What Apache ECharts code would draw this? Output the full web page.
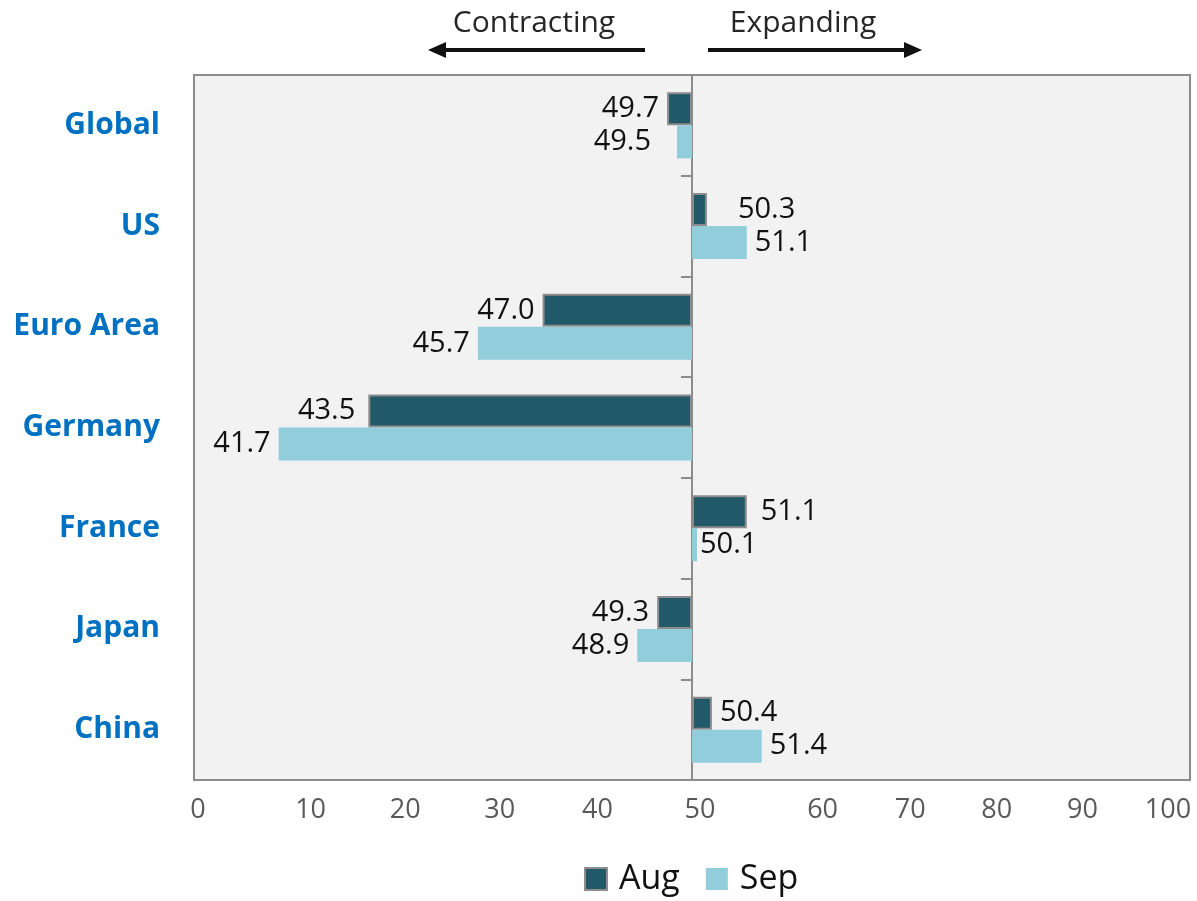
<!DOCTYPE html>
<html>
<head>
<meta charset="utf-8">
<title>PMI Aug vs Sep</title>
<script src="https://cdn.jsdelivr.net/npm/echarts@6/dist/echarts.min.js"></script>
<style>
    html, body {margin: 0; padding: 0; background: #fff;}
    #pmiChart {width: 1197px; height: 901px;}
</style>
</head>
<body>
<div id="pmiChart"></div>
<script>
// ------------------ data ------------------
var countries = ['Global', 'US', 'Euro Area', 'Germany', 'France', 'Japan', 'China'];
// bar lengths as drawn in the picture (Global bars look swapped vs. their labels)
var augPMI = [49.5, 50.3, 47.0, 43.5, 51.1, 49.3, 50.4];
var sepPMI = [49.7, 51.1, 45.7, 41.7, 50.1, 48.9, 51.4];
// value labels as printed
var augText = ['49.7', '50.3', '47.0', '43.5', '51.1', '49.3', '50.4'];
var sepText = ['49.5', '51.1', '45.7', '41.7', '50.1', '48.9', '51.4'];
var tickLabels = ['0', '10', '20', '30', '40', '50', '60', '70', '80', '90', '100'];

var BASE = 50; // bars grow out from 50 (expanding / contracting)
var FONT = '"Open Sans", "Noto Sans", sans-serif';

// little horizontal nudges for a few value labels (px)
var labelNudge = {
    'Aug': {'US': 23, 'France': 6, 'Germany': -5},
    'Sep': {'Global': -18, 'France': -5}
};
// tick labels of the original are not evenly spaced, shift them a bit (px)
var tickShift = [4, 17, 12, 7, 5, 8, 31, 19, 6, -8, -22];

function barData(values, texts, seriesName) {
    return values.map(function (v, i) {
        var nudge = (labelNudge[seriesName] || {})[countries[i]] || 0;
        return {
            value: v - BASE,
            label: {
                position: v < BASE ? 'left' : 'right',
                offset: [nudge, 0],
                formatter: texts[i]
            }
        };
    });
}

function tickRich() {
    var rich = {};
    tickShift.forEach(function (s, k) {
        rich['t' + k] = {
            fontSize: 27,
            fontFamily: FONT,
            color: '#595959',
            padding: s >= 0 ? [0, 0, 0, 2 * s] : [0, -2 * s, 0, 0]
        };
    });
    return rich;
}

// ------------------ chart ------------------
function drawPMI() {
    var myChart = echarts.init(document.getElementById('pmiChart'));

    var valueLabel = {
        show: true,
        distance: 8,
        fontSize: 29,
        fontFamily: FONT,
        color: '#111'
    };

    var option = {
        animation: false,
        textStyle: {fontFamily: FONT},
        grid: {
            left: 194,
            right: 7,
            top: 75,
            bottom: 121,
            show: true,
            backgroundColor: '#f2f2f2',
            borderColor: '#8c8c8c',
            borderWidth: 2
        },
        legend: {
            bottom: 0,
            left: 579,
            itemWidth: 22,
            itemHeight: 22,
            itemGap: 26,
            icon: 'rect',
            textStyle: {fontSize: 34, color: '#111', padding: [0, 0, 0, 7]},
            data: ['Aug', 'Sep']
        },
        xAxis: {
            type: 'value',
            min: -10,
            max: 10,
            interval: 2,
            axisLine: {show: false},
            axisTick: {show: false},
            splitLine: {show: false},
            axisLabel: {
                margin: 17,
                formatter: function (v) {
                    var k = Math.round((v + 10) / 2);
                    return '{t' + k + '|' + tickLabels[k] + '}';
                },
                rich: tickRich()
            }
        },
        yAxis: [
            {
                type: 'category',
                inverse: true,
                position: 'left',
                data: countries,
                axisLine: {show: false, onZero: false},
                axisTick: {show: false},
                axisLabel: {
                    margin: 34,
                    fontSize: 30,
                    fontWeight: 'bold',
                    fontFamily: FONT,
                    color: '#0070c0'
                }
            },
            {
                type: 'category',
                inverse: true,
                position: 'left',
                data: countries,
                axisLine: {
                    show: true,
                    onZero: true,
                    onZeroAxisIndex: 0,
                    lineStyle: {color: '#8c8c8c', width: 2}
                },
                axisTick: {show: true, length: 11, lineStyle: {color: '#8c8c8c', width: 2}},
                axisLabel: {show: false}
            }
        ],
        series: [
            {
                name: 'Aug',
                type: 'bar',
                yAxisIndex: 0,
                barWidth: 33,
                barGap: '0%',
                itemStyle: {color: '#215968', borderColor: '#8c8c8c', borderWidth: 2},
                label: valueLabel,
                data: barData(augPMI, augText, 'Aug')
            },
            {
                name: 'Sep',
                type: 'bar',
                yAxisIndex: 0,
                barWidth: 33,
                barGap: '0%',
                itemStyle: {color: '#92cddc'},
                label: valueLabel,
                data: barData(sepPMI, sepText, 'Sep')
            }
        ],
        graphic: [
            {type: 'text', x: 534, y: 23, style: {text: 'Contracting', fontSize: 30, fontFamily: FONT, fill: '#262626', align: 'center', verticalAlign: 'middle'}},
            {type: 'text', x: 803, y: 23, style: {text: 'Expanding', fontSize: 30, fontFamily: FONT, fill: '#262626', align: 'center', verticalAlign: 'middle'}},
            {type: 'line', shape: {x1: 440, y1: 50, x2: 645, y2: 50}, style: {stroke: '#111', lineWidth: 4}},
            {type: 'polygon', shape: {points: [[428, 50], [446, 42], [446, 58]]}, style: {fill: '#111'}},
            {type: 'line', shape: {x1: 708, y1: 50, x2: 910, y2: 50}, style: {stroke: '#111', lineWidth: 4}},
            {type: 'polygon', shape: {points: [[922, 50], [904, 42], [904, 58]]}, style: {fill: '#111'}}
        ]
    };
    myChart.setOption(option);
}
drawPMI();
</script>
</body>
</html>
